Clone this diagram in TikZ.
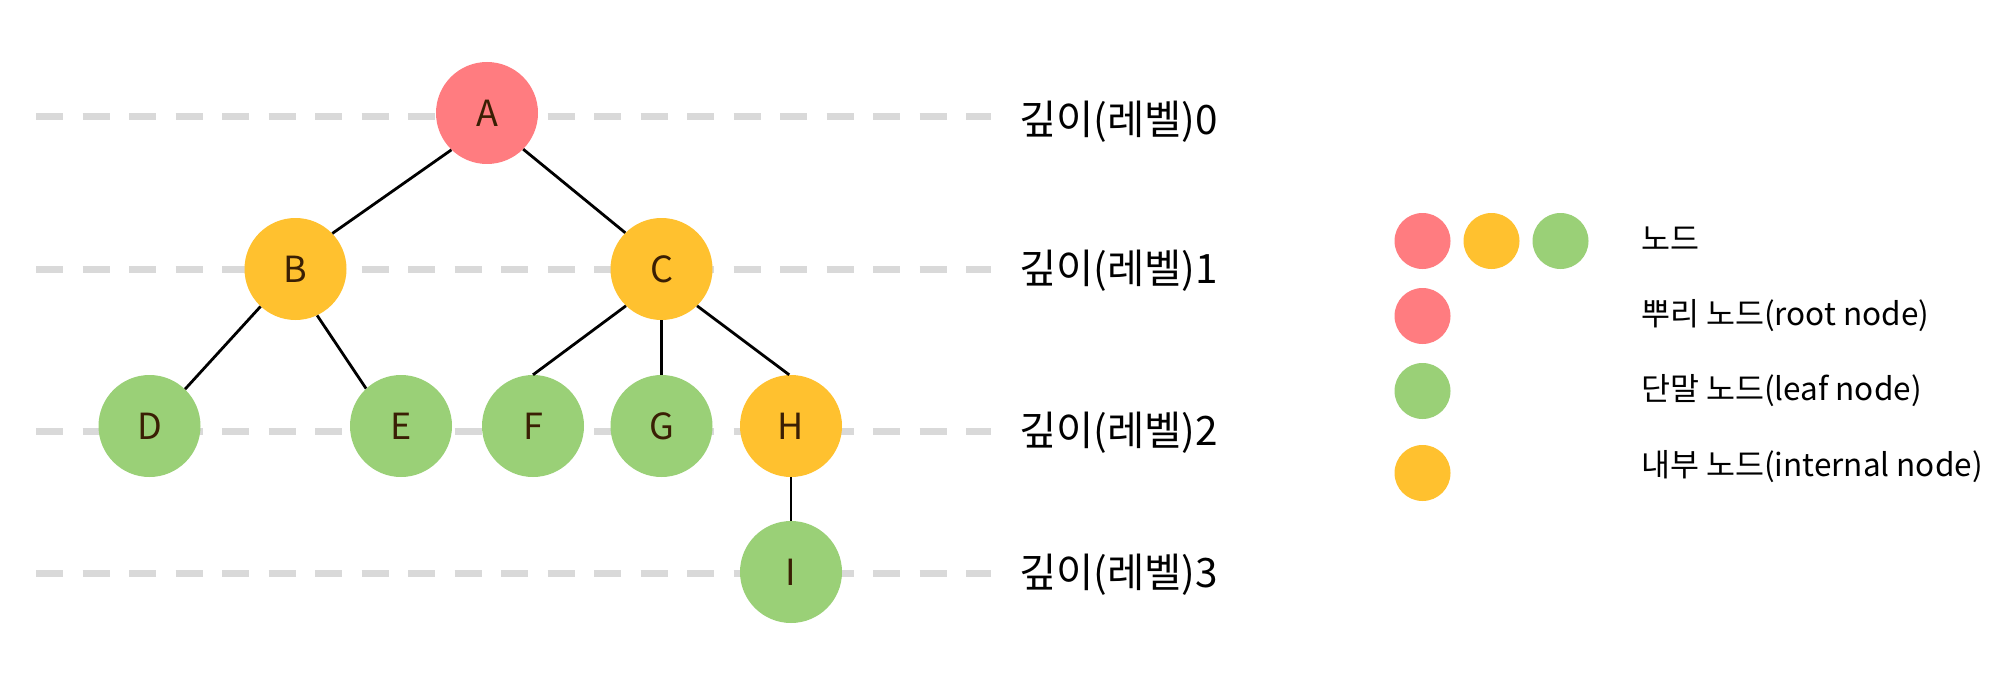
\documentclass[tikz,border=0pt]{standalone}
\usepackage{fontspec}
\setmainfont{Noto Sans CJK KR}
\definecolor{cred}{HTML}{FF7C80}
\definecolor{cyel}{HTML}{FFC12F}
\definecolor{cgrn}{HTML}{9AD077}
\definecolor{ctxt}{HTML}{3A1F04}
\definecolor{cdash}{HTML}{D9D9D9}
\tikzset{
  tnode/.style={circle,minimum size=102pt,inner sep=0pt,text=ctxt,font=\fontsize{36}{40}\selectfont},
  lnode/.style={circle,minimum size=56pt,inner sep=0pt},
  levelline/.style={draw=cdash,line width=7pt,dash pattern=on 27pt off 19.5pt},
  leveltxt/.style={anchor=west,inner sep=0pt,font=\fontsize{40.5}{44}\selectfont},
  legtxt/.style={anchor=west,inner sep=0pt,font=\fontsize{31.5}{35}\selectfont},
  edge/.style={draw=black,line width=2.8pt}
}
\begin{document}
\begin{tikzpicture}[x=1pt,y=-1pt]
\useasboundingbox (0,0) rectangle (2000,682);
% level lines
\coordinate (l0a) at (36,117); \coordinate (l0b) at (991,117);
\coordinate (l1a) at (36,269); \coordinate (l1b) at (991,269);
\coordinate (l2a) at (36,431); \coordinate (l2b) at (991,431);
\coordinate (l3a) at (36,573); \coordinate (l3b) at (991,573);
\draw[levelline] (l0a) -- (l0b);
\draw[levelline] (l1a) -- (l1b);
\draw[levelline] (l2a) -- (l2b);
\draw[levelline] (l3a) -- (l3b);
\node[leveltxt] (t0) at (1019,122) {깊이(레벨)0};
\node[leveltxt] (t1) at (1019,271) {깊이(레벨)1};
\node[leveltxt] (t2) at (1019,433) {깊이(레벨)2};
\node[leveltxt] (t3) at (1019,575) {깊이(레벨)3};
% tree nodes
\node[tnode,fill=cred] (A) at (487,113) {A};
\node[tnode,fill=cyel] (B) at (295.5,269) {B};
\node[tnode,fill=cyel] (C) at (661.5,269) {C};
\node[tnode,fill=cgrn] (D) at (149.5,426) {D};
\node[tnode,fill=cgrn] (E) at (401,426) {E};
\node[tnode,fill=cgrn] (F) at (533,426) {F};
\node[tnode,fill=cgrn] (G) at (661.5,426) {G};
\node[tnode,fill=cyel] (H) at (791,426) {H};
\node[tnode,fill=cgrn] (I) at (791,572) {I};
% edges
\draw[edge] (A.226) -- (B.44);
\draw[edge] (A.-45) -- (C.135);
\draw[edge] (B.227) -- (D.46);
\draw[edge] (B.-65) -- (E.133);
\draw[edge] (C.226) -- (F.90);
\draw[edge] (C.-90) -- (G.90);
\draw[edge] (C.-46) -- (H.92);
\draw[edge] (H.-90) -- (I.90);
% legend
\node[lnode,fill=cred] (k1) at (1422.5,241) {};
\node[lnode,fill=cyel] (k2) at (1491.5,241) {};
\node[lnode,fill=cgrn] (k3) at (1560.5,241) {};
\node[lnode,fill=cred] (k4) at (1422.5,316) {};
\node[lnode,fill=cgrn] (k5) at (1422.5,391) {};
\node[lnode,fill=cyel] (k6) at (1422.5,473) {};
\node[legtxt] (g1) at (1641,239) {노드};
\node[legtxt] (g2) at (1641,316) {뿌리 노드(root node)};
\node[legtxt] (g3) at (1641,391) {단말 노드(leaf node)};
\node[legtxt] (g4) at (1641,467) {내부 노드(internal node)};
\end{tikzpicture}
\end{document}
